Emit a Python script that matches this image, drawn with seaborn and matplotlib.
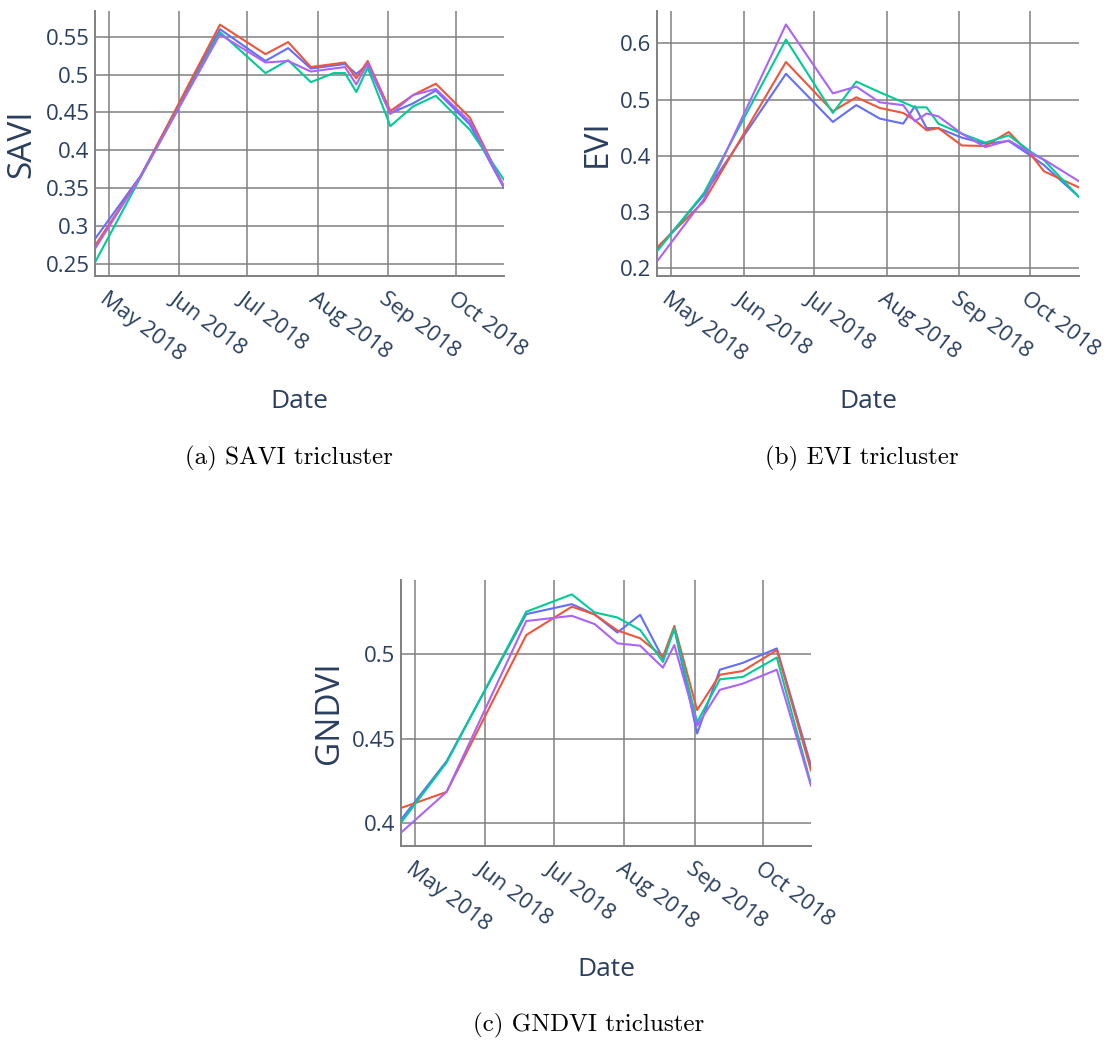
import matplotlib
matplotlib.use("Agg")
import matplotlib.pyplot as plt
import matplotlib.transforms as mtransforms
import pandas as pd
import seaborn as sns

# ---------------- data ----------------
SERIES = ["Series 1", "Series 2", "Series 3", "Series 4"]
COLORS = ["#636EFA", "#EF553B", "#00CC96", "#AB63FA"]

MONTH_TICKS = ["2018-05-01", "2018-06-01", "2018-07-01", "2018-08-01", "2018-09-01", "2018-10-01"]
MONTH_LABELS = ["May 2018", "Jun 2018", "Jul 2018", "Aug 2018", "Sep 2018", "Oct 2018"]

SAVI_DATES = ["2018-04-25", "2018-05-15", "2018-06-19", "2018-07-09", "2018-07-19", "2018-07-29",
              "2018-08-08", "2018-08-13", "2018-08-18", "2018-08-23", "2018-09-02", "2018-09-12",
              "2018-09-22", "2018-10-07", "2018-10-22"]
SAVI_S1 = [0.283, 0.366, 0.560, 0.518, 0.535, 0.508, 0.512, 0.514, 0.501, 0.513, 0.449, 0.462, 0.479, 0.434, 0.350]
SAVI_S2 = [0.274, 0.365, 0.566, 0.527, 0.543, 0.510, 0.514, 0.516, 0.495, 0.518, 0.452, 0.473, 0.488, 0.443, 0.352]
SAVI_S3 = [0.252, 0.364, 0.556, 0.502, 0.519, 0.490, 0.502, 0.502, 0.477, 0.509, 0.432, 0.458, 0.472, 0.427, 0.361]
SAVI_S4 = [0.270, 0.365, 0.553, 0.516, 0.518, 0.504, 0.508, 0.510, 0.487, 0.515, 0.448, 0.473, 0.481, 0.438, 0.352]
SAVI_TICKS = [0.25, 0.30, 0.35, 0.40, 0.45, 0.50, 0.55]
SAVI_TICK_LABELS = ["0.25", "0.3", "0.35", "0.4", "0.45", "0.5", "0.55"]

EVI_DATES = ["2018-04-25", "2018-05-15", "2018-06-19", "2018-07-09", "2018-07-19", "2018-07-29",
             "2018-08-08", "2018-08-13", "2018-08-18", "2018-08-23", "2018-09-02", "2018-09-12",
             "2018-09-22", "2018-10-02", "2018-10-07", "2018-10-22"]
EVI_S1 = [0.232, 0.330, 0.546, 0.460, 0.490, 0.466, 0.457, 0.488, 0.449, 0.449, 0.432, 0.421, 0.426, 0.398, 0.383, 0.326]
EVI_S2 = [0.236, 0.318, 0.567, 0.479, 0.504, 0.485, 0.476, 0.463, 0.445, 0.449, 0.418, 0.417, 0.442, 0.399, 0.372, 0.343]
EVI_S3 = [0.229, 0.333, 0.607, 0.476, 0.532, 0.513, 0.495, 0.486, 0.486, 0.457, 0.439, 0.423, 0.436, 0.405, 0.392, 0.326]
EVI_S4 = [0.211, 0.322, 0.634, 0.511, 0.523, 0.495, 0.490, 0.461, 0.475, 0.470, 0.439, 0.415, 0.427, 0.403, 0.393, 0.354]
EVI_TICKS = [0.2, 0.3, 0.4, 0.5, 0.6]
EVI_TICK_LABELS = ["0.2", "0.3", "0.4", "0.5", "0.6"]

GNDVI_DATES = ["2018-04-25", "2018-05-15", "2018-06-19", "2018-07-09", "2018-07-19", "2018-07-29",
               "2018-08-08", "2018-08-18", "2018-08-23", "2018-09-02", "2018-09-12", "2018-09-22",
               "2018-10-07", "2018-10-22"]
GNDVI_S1 = [0.402, 0.4366, 0.5237, 0.5296, 0.5235, 0.5128, 0.5233, 0.4974, 0.5152, 0.4530, 0.4908, 0.4948, 0.5034, 0.434]
GNDVI_S2 = [0.4089, 0.4184, 0.5113, 0.5281, 0.5235, 0.5140, 0.5094, 0.4984, 0.5167, 0.4669, 0.4878, 0.4900, 0.5024, 0.431]
GNDVI_S3 = [0.4002, 0.4358, 0.5251, 0.5354, 0.5247, 0.5217, 0.5143, 0.4954, 0.5153, 0.4596, 0.4851, 0.4865, 0.4980, 0.423]
GNDVI_S4 = [0.3943, 0.4184, 0.5196, 0.5227, 0.5178, 0.5064, 0.5050, 0.4920, 0.5054, 0.4576, 0.4789, 0.4825, 0.4908, 0.422]
GNDVI_TICKS = [0.40, 0.45, 0.50]
GNDVI_TICK_LABELS = ["0.4", "0.45", "0.5"]

# ---------------- style ----------------
sns.set_theme(style="white")
plt.rcParams["font.family"] = ["Open Sans", "DejaVu Sans"]
TXT = "#2a3f5f"
GRID = "#808080"

W, H = 1114, 1040
fig = plt.figure(figsize=(W / 100, H / 100), dpi=100)


def px_axes(x0, y0, x1, y1):
    return fig.add_axes([x0 / W, 1 - y1 / H, (x1 - x0) / W, (y1 - y0) / H])


def make_df(dates, series_values):
    rows = []
    for name, vals in zip(SERIES, series_values):
        for d, v in zip(dates, vals):
            rows.append({"date": pd.Timestamp(d), "value": v, "series": name})
    return pd.DataFrame(rows)


def draw(ax, dates, values, yticks, ylabels, ylim, ylabel):
    df = make_df(dates, values)
    sns.lineplot(data=df, x="date", y="value", hue="series", hue_order=SERIES,
                 palette=dict(zip(SERIES, COLORS)), legend=False, linewidth=1.5,
                 estimator=None, ax=ax, zorder=3)
    dts = pd.to_datetime(dates)
    ax.set_xlim(dts.min(), dts.max())
    ax.set_ylim(*ylim)
    ax.set_yticks(yticks, ylabels)
    ax.set_xticks(pd.to_datetime(MONTH_TICKS), MONTH_LABELS, rotation=-37,
                  ha="left", va="top", rotation_mode="anchor")
    off = mtransforms.ScaledTranslation(1 / 100, 0, fig.dpi_scale_trans)
    for lab in ax.get_xticklabels():
        lab.set_transform(lab.get_transform() + off)
    ax.tick_params(axis="both", length=0, labelsize=16, colors=TXT)
    ax.tick_params(axis="x", pad=9)
    ax.tick_params(axis="y", pad=4)
    ax.grid(True, color=GRID, linewidth=1.1, zorder=1)
    ax.set_axisbelow(True)
    for s in ["top", "right"]:
        ax.spines[s].set_visible(False)
    for s in ["left", "bottom"]:
        ax.spines[s].set_color(GRID)
        ax.spines[s].set_linewidth(1.4)
    ax.set_xlabel("Date", fontsize=19, color=TXT)
    ax.xaxis.label.set_va("center")
    ax.set_ylabel(ylabel, fontsize=24, color=TXT)
    ax.yaxis.label.set_va("center")
    return ax


ax1 = px_axes(95, 11, 504, 276)
draw(ax1, SAVI_DATES, [SAVI_S1, SAVI_S2, SAVI_S3, SAVI_S4], SAVI_TICKS, SAVI_TICK_LABELS,
     (0.234, 0.584), "SAVI")
ax1.xaxis.set_label_coords(0.5, (276 - 401) / 265)
ax1.yaxis.set_label_coords((22 - 95) / 409, 0.5)

ax2 = px_axes(657, 11, 1079, 276)
draw(ax2, EVI_DATES, [EVI_S1, EVI_S2, EVI_S3, EVI_S4], EVI_TICKS, EVI_TICK_LABELS,
     (0.185, 0.658), "EVI")
ax2.xaxis.set_label_coords(0.5, (276 - 401) / 265)
ax2.yaxis.set_label_coords((597 - 657) / 422, 0.5)

ax3 = px_axes(401, 580, 811, 846)
draw(ax3, GNDVI_DATES, [GNDVI_S1, GNDVI_S2, GNDVI_S3, GNDVI_S4], GNDVI_TICKS, GNDVI_TICK_LABELS,
     (0.3864, 0.5439), "GNDVI")
ax3.xaxis.set_label_coords(0.5, (846 - 969) / 266)
ax3.yaxis.set_label_coords((330 - 401) / 410, 0.5)

cap_kw = dict(fontsize=18, family=["cmr10", "DejaVu Serif"], color="black", ha="center", va="center")
fig.text(289 / W, 1 - 458 / H, "(a) SAVI tricluster", **cap_kw)
fig.text(862 / W, 1 - 458 / H, "(b) EVI tricluster", **cap_kw)
fig.text(589 / W, 1 - 1025 / H, "(c) GNDVI tricluster", **cap_kw)

fig.savefig("out.png", dpi=100, facecolor="white")
